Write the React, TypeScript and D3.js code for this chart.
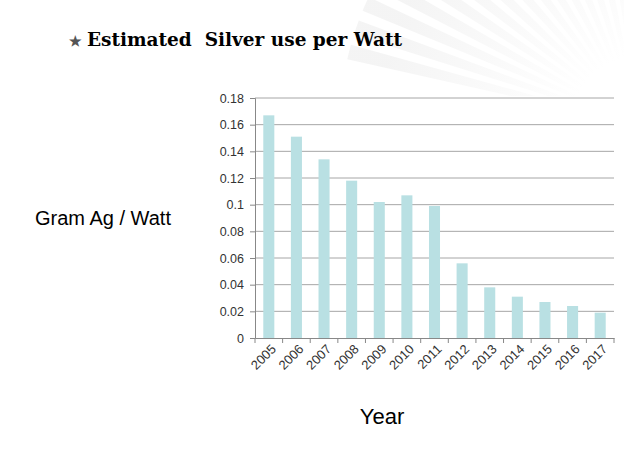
import { useEffect, useRef } from "react";
import * as d3 from "d3";

const years = ["2005", "2006", "2007", "2008", "2009", "2010", "2011", "2012", "2013", "2014", "2015", "2016", "2017"];
const silverPerWatt = [0.167, 0.151, 0.134, 0.118, 0.102, 0.107, 0.099, 0.056, 0.038, 0.031, 0.027, 0.024, 0.019];
const yTicks = [0, 0.02, 0.04, 0.06, 0.08, 0.1, 0.12, 0.14, 0.16, 0.18];

export default function App() {
  const ref = useRef<SVGSVGElement>(null);

  useEffect(() => {
    document.body.style.margin = "0";
    if (!ref.current) return;
    const svg = d3.select(ref.current);
    svg.selectAll("*").remove();

    const width = 624;
    const height = 452;
    const margin = { top: 98, right: 10, bottom: 114, left: 255 };

    svg.append("rect").attr("width", width).attr("height", height).attr("fill", "#fff");

    // faint sunburst in the corner (decoration only)
    const defs = svg.append("defs");
    const grad = defs.append("radialGradient")
      .attr("id", "ray")
      .attr("gradientUnits", "userSpaceOnUse")
      .attr("cx", 0).attr("cy", 0).attr("r", 260);
    grad.append("stop").attr("offset", "0.25").attr("stop-color", "#888").attr("stop-opacity", 0);
    grad.append("stop").attr("offset", "1").attr("stop-color", "#888").attr("stop-opacity", 0.09);
    defs.append("clipPath").attr("id", "topClip")
      .append("rect").attr("x", 0).attr("y", 0).attr("width", width).attr("height", 96);
    const arc = d3.arc<number>()
      .innerRadius(0)
      .outerRadius(300)
      .startAngle(a => a)
      .endAngle(a => a + 0.05);
    const angles = d3.range(-1.35, 0.05, 0.085);
    svg.append("g")
      .attr("clip-path", "url(#topClip)")
      .append("g")
      .attr("transform", "translate(640,125)")
      .selectAll("path")
      .data(angles)
      .join("path")
      .attr("d", arc)
      .attr("fill", "url(#ray)");

    const x = d3.scaleBand()
      .domain(years)
      .range([margin.left, width - margin.right])
      .paddingInner(0.6)
      .paddingOuter(0.3);

    const y = d3.scaleLinear()
      .domain([0, 0.18])
      .range([height - margin.bottom, margin.top]);

    // grid lines
    svg.append("g")
      .selectAll("line")
      .data(yTicks.slice(1))
      .join("line")
      .attr("x1", margin.left)
      .attr("x2", width - margin.right)
      .attr("y1", d => y(d))
      .attr("y2", d => y(d))
      .attr("stroke", "#a6a6a6")
      .attr("stroke-width", 1);

    // bars
    svg.append("g")
      .selectAll("rect")
      .data(silverPerWatt)
      .join("rect")
      .attr("x", (d, i) => x(years[i])!)
      .attr("y", d => y(d))
      .attr("width", x.bandwidth())
      .attr("height", d => y(0) - y(d))
      .attr("fill", "#b9e0e3");

    // y axis
    const yAxis = d3.axisLeft(y).tickValues(yTicks).tickSize(5).tickPadding(6)
      .tickFormat(d => String(+d));
    const gy = svg.append("g")
      .attr("transform", `translate(${margin.left},0)`)
      .call(yAxis);
    gy.selectAll("path, line").attr("stroke", "#888");
    gy.selectAll("text").attr("fill", "#333").style("font-size", "12.5px").style("font-family", "Liberation Sans, Arial, sans-serif");

    // x axis
    const step = x.step();
    const xAxis = d3.axisBottom(x).tickSize(0).tickPadding(0);
    const gx = svg.append("g")
      .attr("transform", `translate(0,${y(0)})`)
      .call(xAxis);
    gx.select("path").attr("stroke", "#888");
    gx.selectAll("text")
      .attr("fill", "#333")
      .style("font-size", "13px")
      .style("font-family", "Liberation Sans, Arial, sans-serif")
      .attr("text-anchor", "end")
      .attr("y", 0)
      .attr("dy", "0")
      .attr("transform", "translate(8,12) rotate(-45)");
    // tick marks at category boundaries
    gx.append("g")
      .selectAll("line")
      .data(d3.range(years.length + 1))
      .join("line")
      .attr("x1", i => x(years[0])! - (step - x.bandwidth()) / 2 + i * step)
      .attr("x2", i => x(years[0])! - (step - x.bandwidth()) / 2 + i * step)
      .attr("y1", 0)
      .attr("y2", 5)
      .attr("stroke", "#888");

    // labels
    svg.append("text")
      .attr("x", 35)
      .attr("y", 225)
      .attr("font-family", "Liberation Sans, Arial, sans-serif")
      .attr("font-size", 20)
      .attr("fill", "#000")
      .text("Gram Ag / Watt");

    svg.append("text")
      .attr("x", 382)
      .attr("y", 424)
      .attr("text-anchor", "middle")
      .attr("font-family", "Liberation Sans, Arial, sans-serif")
      .attr("font-size", 22)
      .attr("fill", "#000")
      .text("Year");

    const title = svg.append("text")
      .attr("x", 69)
      .attr("y", 46)
      .attr("font-family", "DejaVu Serif, Liberation Serif, serif")
      .attr("font-weight", "bold")
      .attr("font-size", 18.5)
      .attr("fill", "#000");
    title.append("tspan").attr("fill", "#555").attr("font-size", 14).text("★ ");
    title.append("tspan").style("white-space", "pre").text("Estimated  Silver use per Watt");
  }, []);

  return <svg ref={ref} width={624} height={452} style={{ display: "block" }} />;
}
